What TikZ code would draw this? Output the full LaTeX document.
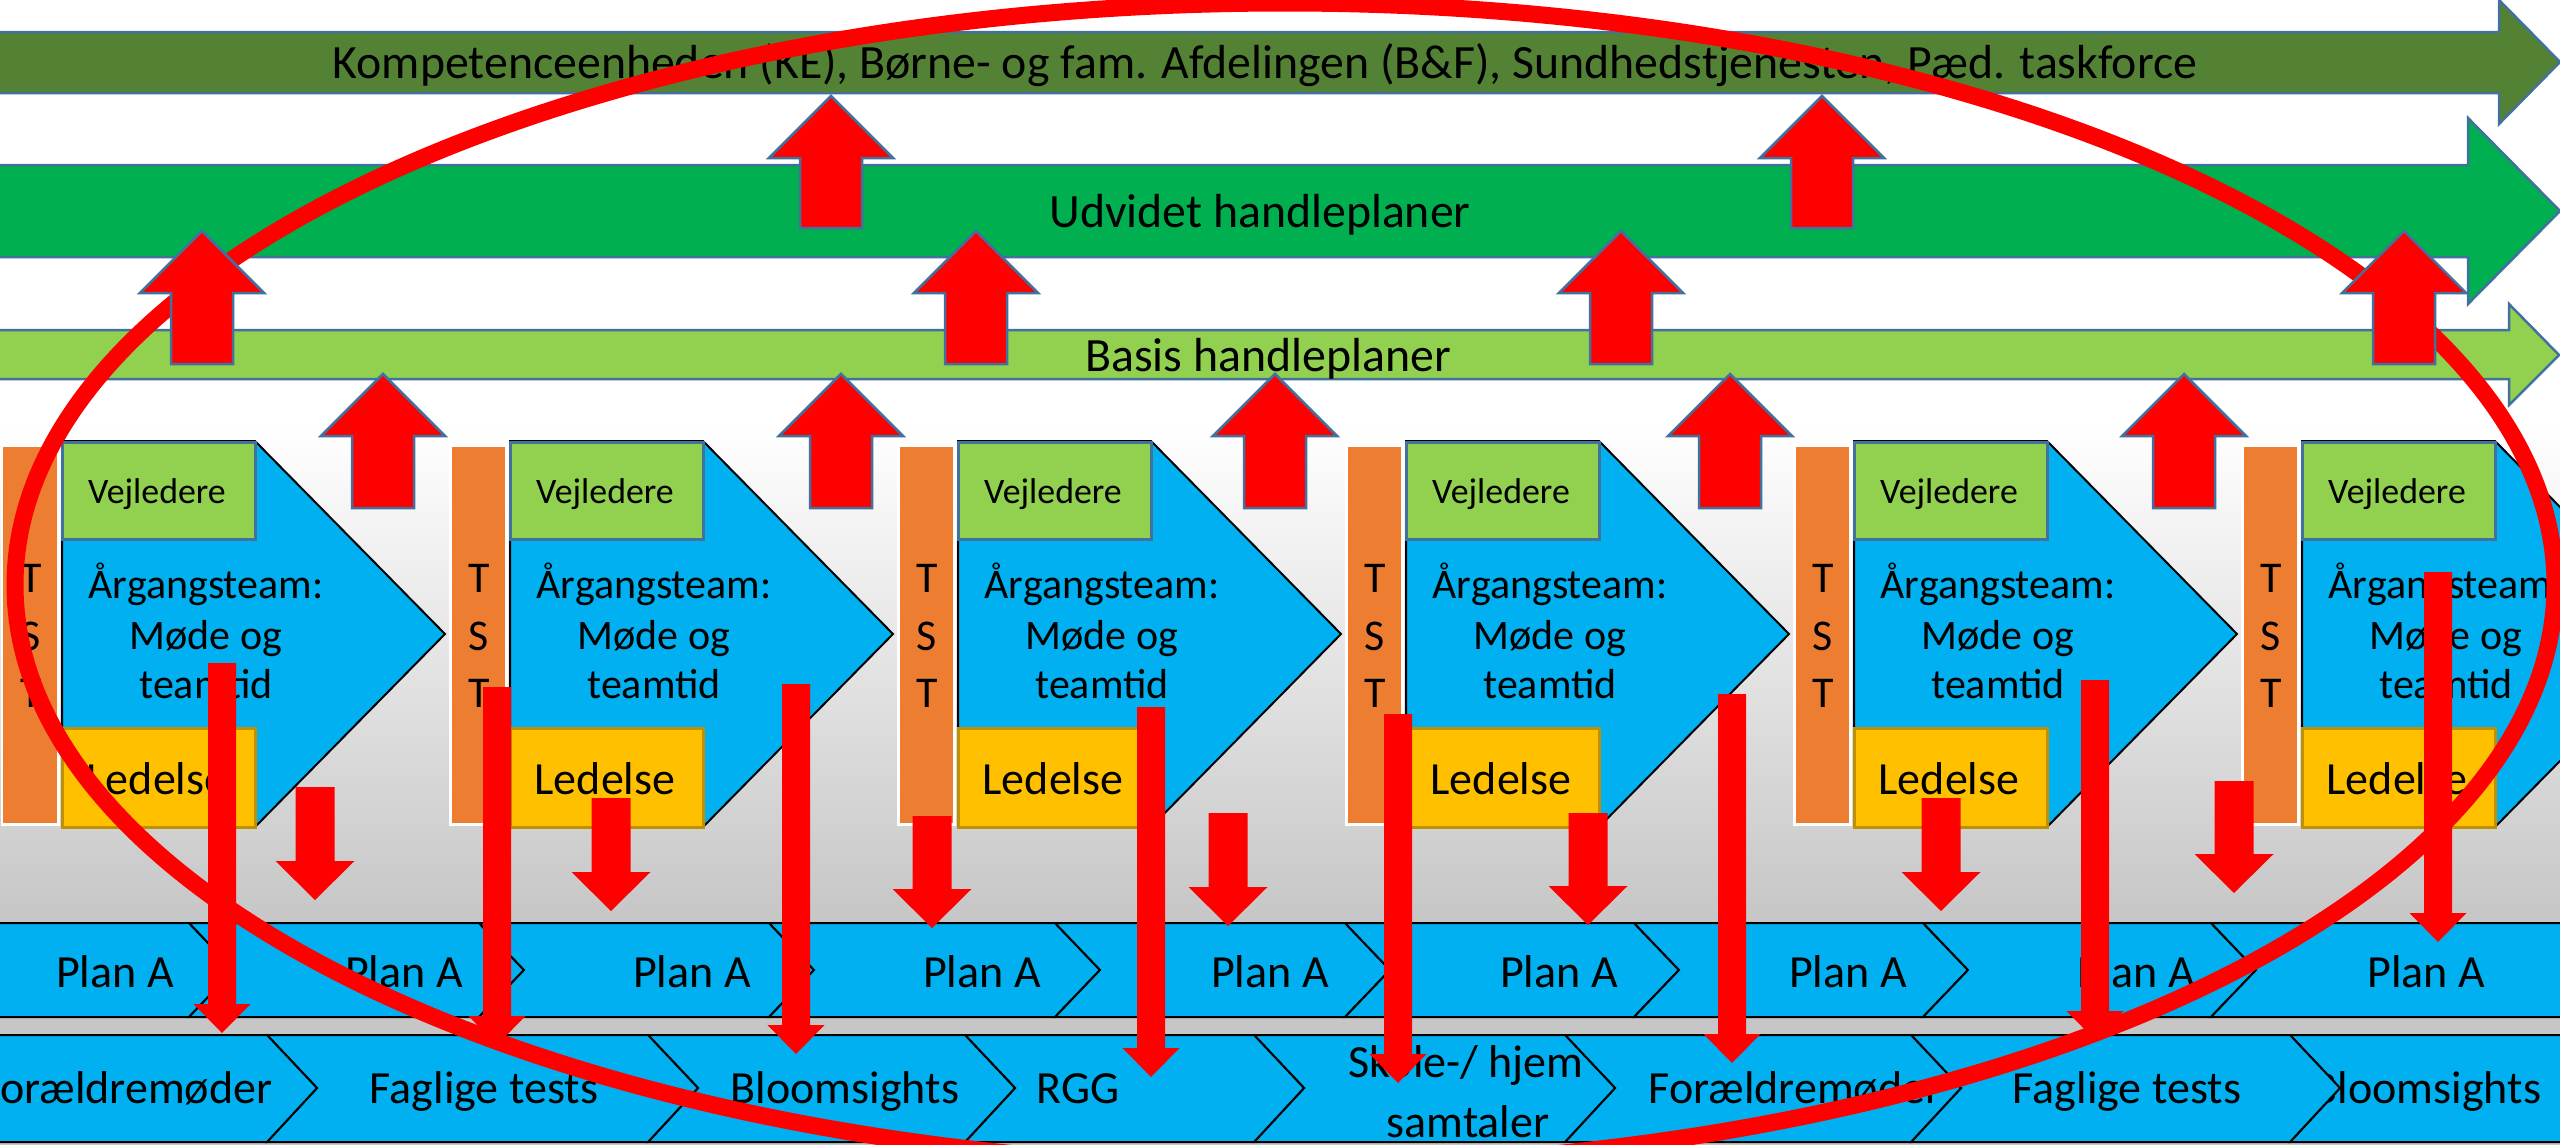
\documentclass[tikz,border=0pt]{standalone}
\usepackage{fontspec}
\setmainfont{Carlito}
\definecolor{dkgreen}{HTML}{548235}
\definecolor{midgreen}{HTML}{00B050}
\definecolor{ltgreen}{HTML}{92D050}
\definecolor{skyblue}{HTML}{00B0F0}
\definecolor{tstorange}{HTML}{ED7D31}
\definecolor{gold}{HTML}{FFC000}
\definecolor{goldedge}{HTML}{BF9000}
\definecolor{outl}{HTML}{41719C}
\definecolor{bggray}{HTML}{C6C6C6}
\definecolor{pred}{HTML}{FF0000}
\newcommand{\fbar}{\fontsize{13.6pt}{16pt}\selectfont}
\newcommand{\fbig}{\fontsize{13.1pt}{15.5pt}\selectfont}
\newcommand{\fmid}{\fontsize{11.95pt}{14pt}\selectfont}
\newcommand{\fsml}{\fontsize{10.2pt}{12pt}\selectfont}
\newcommand{\ftst}{\fontsize{12.5pt}{14pt}\selectfont}
% up block arrow: x, tip y, bottom y
\newcommand{\UpArr}[3]{\draw[uparr] (#1,#2) -- ({#1+62},{#2+62}) -- ({#1+31},{#2+62}) -- ({#1+31},#3) -- ({#1-31},#3) -- ({#1-31},{#2+62}) -- ({#1-62},{#2+62}) -- cycle;}
% down block arrow: x, top, tip, shaft half, head half, head length
\newcommand{\DnArr}[6]{\fill[pred] ({#1-#4},#2) -- ({#1+#4},#2) -- ({#1+#4},{#3-#6}) -- ({#1+#5},{#3-#6}) -- (#1,#3) -- ({#1-#5},{#3-#6}) -- ({#1-#4},{#3-#6}) -- cycle;}
\newcommand{\BotSeg}[2]{\draw[rowchev] (#1,1035) -- (#2,1035) -- ({#2+50},1088) -- (#2,1142) -- (#1,1142) -- ({#1+50},1088) -- cycle;}
\begin{document}
\begin{tikzpicture}[x=0.1mm,y=-0.1mm,
  bar/.style={draw=outl,line width=0.25mm},
  uparr/.style={draw=outl,fill=pred,line width=0.25mm,line join=miter},
  chev/.style={draw=black,fill=skyblue,line width=0.2mm},
  rowchev/.style={draw=black,fill=skyblue,line width=0.2mm},
  vejbox/.style={draw=outl,fill=ltgreen,line width=0.3mm},
  ledbox/.style={draw=goldedge,fill=gold,line width=0.3mm},
  tstbar/.style={draw=white,fill=tstorange,line width=0.3mm},
  txt/.style={inner sep=0pt,anchor=base,text=black},
  bartxt/.style={txt,font=\fbar},
  btxt/.style={txt,font=\fbig},
  mtxt/.style={txt,font=\fmid},
  vtxt/.style={txt,font=\fsml},
  ttxt/.style={txt,font=\ftst}]
\useasboundingbox (0,0) rectangle (2560,1145);
\clip (0,0) rectangle (2560,1145);
% background
\fill[white] (0,0) rectangle (2560,1145);
\shade[top color=white,bottom color=bggray] (0,425) rectangle (2560,923);
\fill[bggray] (0,923) rectangle (2560,1145);
% three long arrows
\draw[bar,fill=dkgreen] (-5,32) -- (2499,32) -- (2499,0) -- (2560,62) -- (2499,124) -- (2499,93) -- (-5,93) -- cycle;
\node[bartxt] (ke) at (1265,78) {Kompetenceenheden (KE), Børne- og fam. Afdelingen (B\&F), Sundhedstjenesten, Pæd. taskforce};
\draw[bar,fill=midgreen] (-5,165) -- (2468,165) -- (2468,118) -- (2560,211) -- (2468,304) -- (2468,257) -- (-5,257) -- cycle;
\node[bartxt] (udv) at (1260,227) {Udvidet handleplaner};
\draw[bar,fill=ltgreen] (-5,330) -- (2509,330) -- (2509,304) -- (2559,355) -- (2509,405) -- (2509,379) -- (-5,379) -- cycle;
\node[bartxt] (bas) at (1268,371) {Basis handleplaner};
% six team blocks
\foreach \k in {0,...,5}{
 \begin{scope}[shift={(448*\k,0)}]
  \draw[chev] (62,441) -- (255,441) -- (445,634) -- (255,827) -- (62,827) -- cycle;
  \draw[vejbox] (62,442) rectangle (255,539);
  \draw[ledbox] (62,728) rectangle (255,827);
  \draw[tstbar] (2,445) rectangle (58,824);
  \node[vtxt] (vej\k) at (157,503) {Vejledere};
  \node[btxt] (led\k) at (157,794) {Ledelse};
  \node[ttxt] (tsta\k) at (31,592) {T};
  \node[ttxt] (tstb\k) at (31,650) {S};
  \node[ttxt] (tstc\k) at (31,707) {T};
  \node[mtxt] (arga\k) at (206,598) {Årgangsteam:};
  \node[mtxt] (argb\k) at (206,649) {Møde og};
  \node[mtxt] (argc\k) at (206,698) {teamtid};
 \end{scope}}
% Plan A row
\foreach \L/\R/\c [count=\n] in {-150/189/115,189/479/404,479/769/692,769/1055/982,1055/1345/1270,1345/1634/1559,1634/1923/1848,1923/2211/2136,2211/2650/2426}{
  \draw[rowchev] (\L,923) -- (\R,923) -- ({\R+45},970) -- (\R,1017) -- (\L,1017) -- ({\L+45},970) -- cycle;
  \node[btxt] (plan\n) at (\c,987) {Plan A};}
% bottom row, drawn right to left
\BotSeg{2290}{2700}
\node[btxt] (bl2) at (2427,1103) {Bloomsights};
\BotSeg{1911}{2290}
\node[btxt] (ft2) at (2127,1103) {Faglige tests};
\BotSeg{1565}{1911}
\node[btxt] (fo2) at (1795,1103) {Forældremøder};
\BotSeg{1254}{1565}
\node[btxt] (sk1) at (1466,1077) {Skole-/ hjem};
\node[btxt] (sk2) at (1468,1137) {samtaler};
\BotSeg{965}{1254}
\node[btxt] (rgg) at (1078,1103) {RGG};
\BotSeg{648}{965}
\node[btxt] (bl1) at (845,1103) {Bloomsights};
\BotSeg{267}{648}
\node[btxt] (ft1) at (484,1103) {Faglige tests};
\BotSeg{-200}{267}
\node[btxt] (fo1) at (126,1103) {Forældremøder};
% short down arrows
\foreach \x/\t/\e in {315/787/900,611/798/911,932/816/928,1228/813/926,1588/813/925,1941/798/911,2234/781/893}{
  \DnArr{\x}{\t}{\e}{19.5}{39.5}{39}}
% long down arrows
\foreach \x/\t/\e in {222/663/1033,497/687/1045,796/684/1054,1151/707/1077,1398/714/1083,1732/694/1063,2095/680/1040,2438/572/942}{
  \DnArr{\x}{\t}{\e}{14}{28.5}{29}}
% red ellipse
\draw[pred,line width=1.7mm] (1285,585) ellipse [x radius=127mm,y radius=58.2mm];
% up arrows
\foreach \x in {202,976,1621,2404}{\UpArr{\x}{231}{364}}
\foreach \x in {831,1822}{\UpArr{\x}{96}{228}}
\foreach \x in {383,841,1275,1730,2184}{\UpArr{\x}{374}{508}}
\end{tikzpicture}
\end{document}
